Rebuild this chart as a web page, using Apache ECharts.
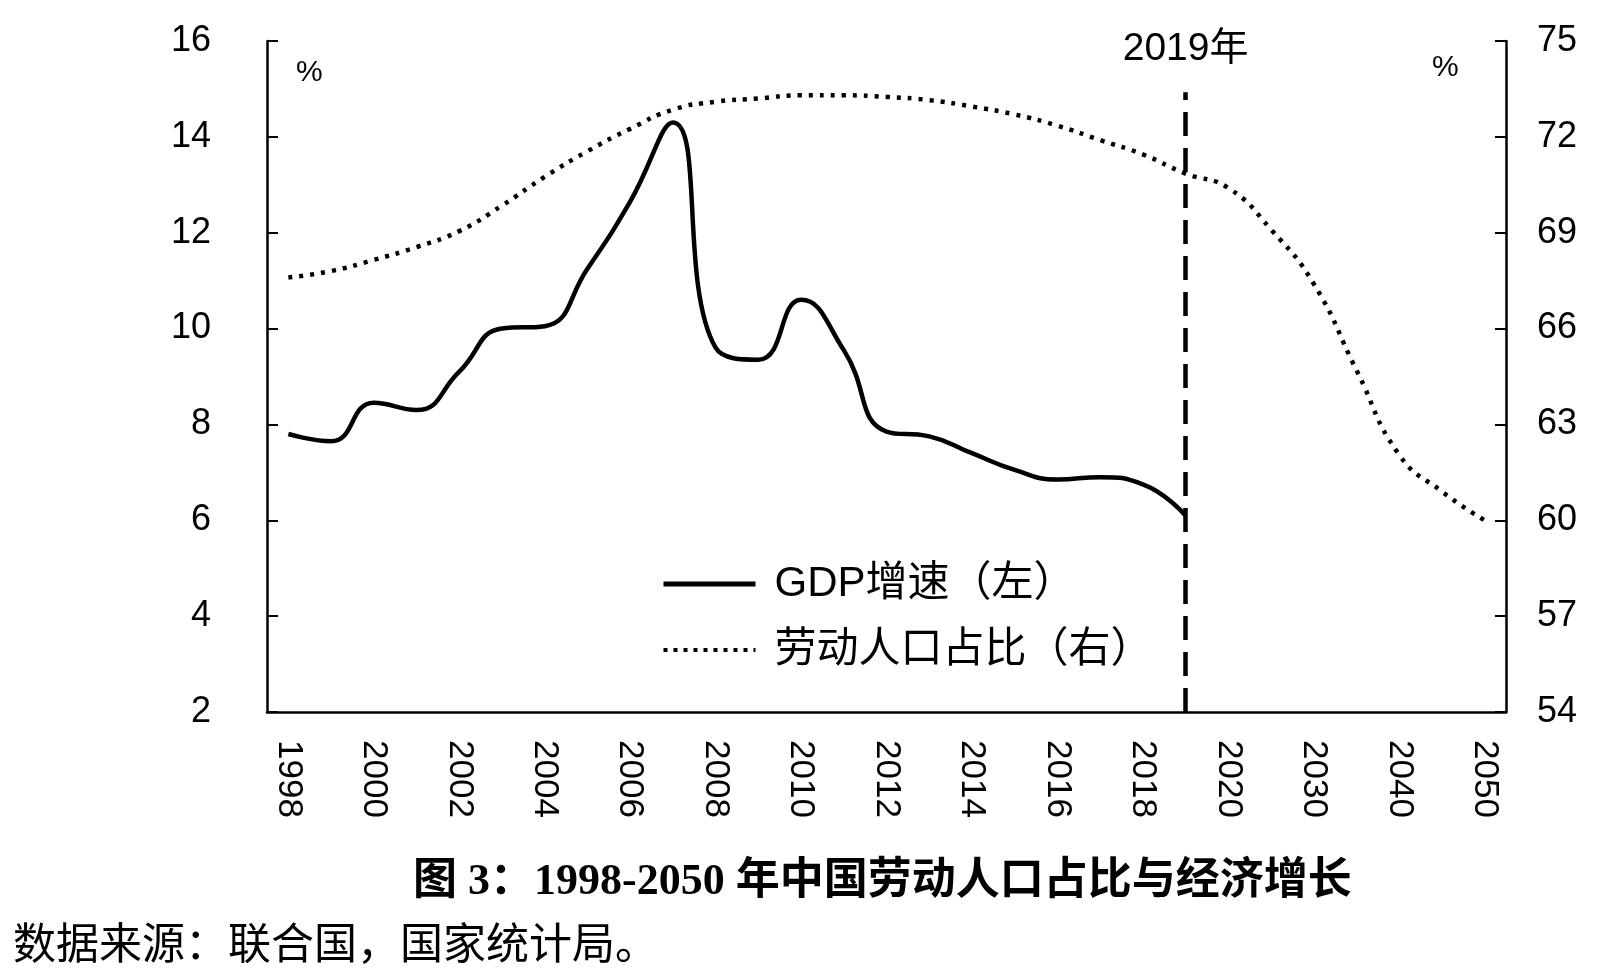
<!DOCTYPE html>
<html>
<head>
<meta charset="utf-8">
<script src="https://cdn.jsdelivr.net/npm/echarts@6/dist/echarts.min.js"></script>
<style>
html,body{margin:0;padding:0;background:#fff;}
#chart{width:1612px;height:974px;}
</style>
</head>
<body>
<div id="chart"></div>
<script>
var categories = ['1998','1999','2000','2001','2002','2003','2004','2005','2006','2007','2008','2009','2010','2011','2012','2013','2014','2015','2016','2017','2018','2019','2020','2025','2030','2035','2040','2045','2050'];
var gdpGrowth = [7.8,7.65,8.45,8.3,9.1,10.0,10.05,11.25,12.65,14.3,9.6,9.35,10.6,9.55,7.85,7.75,7.4,7.05,6.85,6.9,6.75,6.1];
var laborShare = [67.6,67.8,68.15,68.55,69.05,69.85,70.75,71.55,72.25,72.85,73.1,73.2,73.3,73.3,73.25,73.15,72.95,72.7,72.35,71.9,71.45,70.85,70.4,69.1,67.4,64.7,62.05,60.9,60.0];
var seriesNames = ['GDP增速（左）','劳动人口占比（右）'];
var markYear = '2019';
var markLabel = '2019年';
var titleText = '图 3：1998-2050 年中国劳动人口占比与经济增长';
var sourceText = '数据来源：联合国，国家统计局。';

var numFont = 'Liberation Sans, Arial, sans-serif';
var cjkFont = 'Liberation Sans, Noto Sans CJK SC, sans-serif';

var chart = echarts.init(document.getElementById('chart'), null, {renderer:'canvas'});
var option = {
  backgroundColor: '#ffffff',
  animation: false,
  title: [
    {text: titleText, left: 408, top: 856,
     textStyle: {fontFamily: 'Liberation Serif, Noto Sans CJK SC, serif', fontWeight: 'bold', fontSize: 44, color: '#000'}},
    {text: sourceText, left: 8, top: 916,
     textStyle: {fontFamily: 'Noto Sans CJK SC, sans-serif', fontWeight: 'normal', fontSize: 43, color: '#000'}}
  ],
  grid: {left: 267, right: 106, top: 41, bottom: 262},
  legend: {
    orient: 'vertical', left: 656, top: 558,
    itemWidth: 92, itemHeight: 16, itemGap: 24,
    itemStyle: {color: 'rgba(0,0,0,0)', borderColor: 'rgba(0,0,0,0)', borderWidth: 0, opacity: 0},
    data: [
      {name: seriesNames[0], lineStyle: {color: '#000', width: 5, type: 'solid'}},
      {name: seriesNames[1], lineStyle: {color: '#000', width: 4, type: [4, 6]}}
    ],
    textStyle: {fontFamily: cjkFont, fontSize: 42, color: '#000', padding: [0,0,0,14]}
  },
  graphic: [
    {type:'text', left: 296, top: 58, style:{text:'%', fontSize: 30, fontFamily: numFont, fill:'#000'}},
    {type:'text', left: 1432, top: 53, style:{text:'%', fontSize: 30, fontFamily: numFont, fill:'#000'}}
  ],
  xAxis: {
    type: 'category', data: categories, boundaryGap: true,
    axisLine: {lineStyle: {color:'#000', width: 2.5}},
    axisTick: {inside: true, length: 12, interval: 0, lineStyle: {color:'#000', width: 2}},
    axisLabel: {interval: 1, rotate: -90, margin: 28, fontSize: 35, fontFamily: numFont, color: '#000'},
    splitLine: {show: false}
  },
  yAxis: [
    {type:'value', min: 2, max: 16, interval: 2, position: 'left',
     axisLine: {show: true, lineStyle: {color:'#000', width: 2.5}},
     axisTick: {show: true, inside: true, length: 11, lineStyle: {color:'#000', width: 2}},
     axisLabel: {margin: 56, fontSize: 36, fontFamily: numFont, color: '#000'},
     splitLine: {show: false}},
    {type:'value', min: 54, max: 75, interval: 3, position: 'right',
     axisLine: {show: true, lineStyle: {color:'#000', width: 2.5}},
     axisTick: {show: true, inside: true, length: 11, lineStyle: {color:'#000', width: 2}},
     axisLabel: {margin: 31, fontSize: 36, fontFamily: numFont, color: '#000'},
     splitLine: {show: false}}
  ],
  series: [
    {name: seriesNames[0], type: 'line', yAxisIndex: 0, data: gdpGrowth,
     smooth: 0.5, symbol: 'none', showSymbol: false,
     lineStyle: {color: '#000', width: 4.5, type: 'solid'},
     itemStyle: {color: '#000'},
     markLine: {
       silent: true, symbol: ['none','none'],
       lineStyle: {color: '#000', width: 4.5, type: [24, 12]},
       label: {show: true, position: 'end', formatter: markLabel, distance: 24,
               fontSize: 39, fontFamily: cjkFont, color: '#000'},
       data: [[{coord: [markYear, 2]}, {coord: [markYear, 14.93]}]]
     }},
    {name: seriesNames[1], type: 'line', yAxisIndex: 1, data: laborShare,
     smooth: 0.5, symbol: 'none', showSymbol: false,
     lineStyle: {color: '#000', width: 4.5, type: [4, 7]},
     itemStyle: {color: '#000'}}
  ]
};
chart.setOption(option);
</script>
</body>
</html>
